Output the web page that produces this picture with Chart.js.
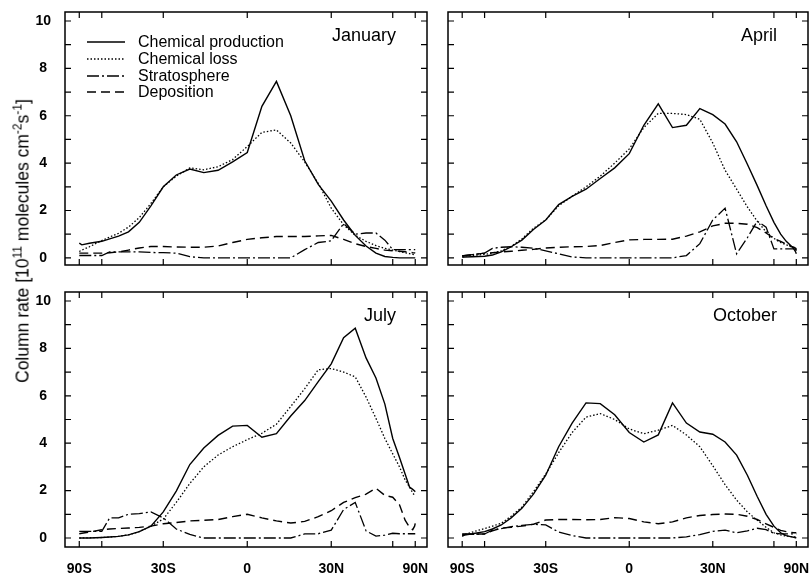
<!DOCTYPE html>
<html>
<head>
<meta charset="utf-8">
<script src="https://cdn.jsdelivr.net/npm/chart.js@4.4.1/dist/chart.umd.min.js"></script>
<style>
html, body { margin: 0; padding: 0; background: #fff; overflow: hidden; }
#wrap { position: relative; width: 809px; height: 575px; }
#wrap canvas { position: absolute; left: 0; top: 0; }
#ytitle {
  position: absolute; left: 23px; top: 241px;
  transform: translate(-50%, -50%) rotate(-90deg);
  white-space: nowrap; color: #000;
  font: 17.5px "Liberation Sans", Arial, sans-serif;
}
#ytitle sup { font-size: 12px; line-height: 0; vertical-align: 7px; }
</style>
</head>
<body>
<div id="wrap">
  <canvas id="c1" width="809" height="575"></canvas>
  <canvas id="c2" width="809" height="575"></canvas>
  <canvas id="c3" width="809" height="575"></canvas>
  <canvas id="c4" width="809" height="575"></canvas>
  <div id="ytitle">Column rate [10<sup>11</sup> molecules cm<sup>-2</sup>s<sup>-1</sup>]</div>
</div>
<script>
// latitude grid (degrees), x axis is linear in sin(latitude)
var LAT = [-90,-80,-70,-60,-55,-50,-45,-40,-35,-30,-25,-20,-15,-10,-5,0,
           5,10,15,20,25,30,35,40,45,50,55,60,65,70,75,80,85,90];
var X_TICK_LAT = [-90,-60,-30,0,30,60,90];
var X_TICK_LABELS = ['90S','','30S','0','30N','','90N'];
var Y_TICKS = [0,1,2,3,4,5,6,7,8,9,10];
var SERIES_NAMES = ['Chemical production','Chemical loss','Stratosphere','Deposition'];
var MONTHS = ['January','April','July','October'];

// January
var janProduction = [0.62,0.55,0.62,0.7,0.8,0.92,1.1,1.5,2.2,3.0,3.5,3.75,3.6,3.7,4.05,4.45,
                     6.4,7.45,6.0,4.1,3.1,2.4,1.6,0.95,0.5,0.2,0.06,0.02,0,0,0,0,0,0];
var janLoss       = [0.27,0.33,0.47,0.73,0.88,1.04,1.3,1.7,2.3,3.0,3.45,3.8,3.72,3.85,4.15,4.7,
                     5.3,5.4,4.85,4.05,3.15,2.1,1.4,0.95,0.7,0.52,0.4,0.33,0.27,0.22,0.18,0.15,0.13,0.12];
var janStrat      = [0.1,0.1,0.1,0.1,0.25,0.25,0.25,0.25,0.23,0.22,0.2,0.05,0,0,0,0,
                     0,0,0,0.35,0.65,0.72,1.45,1.0,1.05,1.05,0.75,0.35,0.35,0.35,0.35,0.35,0.35,0.35];
var janDep        = [0.2,0.2,0.2,0.2,0.22,0.25,0.33,0.42,0.48,0.48,0.46,0.45,0.45,0.5,0.65,0.78,
                     0.85,0.9,0.9,0.9,0.93,0.95,0.78,0.6,0.48,0.4,0.33,0.3,0.28,0.26,0.24,0.22,0.21,0.2];
// April
var aprProduction = [0.03,0.04,0.05,0.07,0.12,0.25,0.47,0.75,1.2,1.6,2.25,2.6,2.9,3.35,3.8,4.4,
                     5.6,6.5,5.5,5.6,6.3,6.05,5.65,4.9,3.95,3.05,2.2,1.5,1.0,0.7,0.52,0.38,0.25,0.18];
var aprLoss       = [0.08,0.08,0.1,0.15,0.2,0.3,0.48,0.8,1.25,1.6,2.2,2.6,3.0,3.45,4.0,4.6,
                     5.5,6.1,6.1,6.05,5.85,4.85,3.7,2.9,2.15,1.55,1.1,0.82,0.65,0.55,0.48,0.42,0.35,0.3];
var aprStrat      = [0.08,0.1,0.14,0.2,0.4,0.45,0.47,0.45,0.41,0.3,0.17,0.04,0,0,0,0,
                     0,0,0,0.1,0.6,1.6,2.1,0.17,0.85,1.55,1.3,0.38,0.38,0.38,0.38,0.38,0.38,0.2];
var aprDep        = [0.08,0.1,0.14,0.2,0.22,0.25,0.28,0.32,0.36,0.42,0.45,0.47,0.48,0.52,0.65,0.76,
                     0.78,0.78,0.79,0.92,1.1,1.35,1.46,1.46,1.42,1.28,1.05,0.82,0.7,0.58,0.5,0.45,0.41,0.35];
// July
var julProduction = [0,0,0,0.02,0.04,0.07,0.13,0.27,0.5,1.1,1.98,3.1,3.8,4.33,4.72,4.75,
                     4.25,4.4,5.15,5.8,6.6,7.35,8.45,8.85,7.6,6.75,5.65,4.2,3.4,2.7,2.15,2.05,1.98,1.95];
var julLoss       = [0,0,0.01,0.02,0.04,0.07,0.13,0.27,0.5,0.8,1.5,2.3,3.0,3.5,3.85,4.15,
                     4.42,4.8,5.55,6.3,7.1,7.15,7.0,6.8,5.95,5.05,4.2,3.55,3.0,2.45,2.15,1.9,1.8,1.78];
var julStrat      = [0.28,0.28,0.28,0.28,0.85,0.85,1.0,1.03,1.1,0.85,0.38,0.15,0,0,0,0,
                     0,0,0,0.17,0.18,0.33,1.2,1.5,0.3,0.08,0.12,0.2,0.18,0.18,0.18,0.18,0.18,0.18];
var julDep        = [0.18,0.2,0.25,0.35,0.38,0.4,0.42,0.45,0.5,0.6,0.65,0.72,0.75,0.78,0.9,1.0,
                     0.85,0.72,0.63,0.7,0.9,1.15,1.5,1.7,1.85,2.1,1.8,1.72,1.4,0.75,0.45,0.35,0.5,0.62];
// October
var octProduction = [0.08,0.12,0.18,0.27,0.38,0.55,0.85,1.25,1.85,2.65,3.85,4.85,5.7,5.67,5.2,4.45,
                     4.05,4.35,5.7,4.85,4.47,4.38,4.05,3.5,2.65,1.75,1.0,0.5,0.22,0.1,0.06,0.03,0.01,0];
var octLoss       = [0.08,0.15,0.25,0.4,0.5,0.62,0.92,1.3,1.95,2.7,3.6,4.45,5.1,5.25,5.0,4.6,
                     4.4,4.55,4.75,4.35,3.85,3.05,2.25,1.6,1.1,0.75,0.45,0.22,0.13,0.08,0.06,0.05,0.05,0.05];
var octStrat      = [0.15,0.15,0.15,0.17,0.33,0.4,0.48,0.53,0.58,0.55,0.25,0.1,0,0,0,0,
                     0,0,0,0.05,0.14,0.28,0.33,0.22,0.3,0.41,0.35,0.2,0.17,0.17,0.17,0.17,0.17,0.17];
var octDep        = [0.17,0.17,0.17,0.17,0.3,0.42,0.45,0.5,0.58,0.76,0.78,0.78,0.77,0.78,0.86,0.82,
                     0.68,0.6,0.68,0.85,0.95,0.99,1.01,1.0,0.92,0.78,0.6,0.45,0.32,0.27,0.24,0.22,0.22,0.22];

var PANEL_DATA = [
  [janProduction, janLoss, janStrat, janDep],
  [aprProduction, aprLoss, aprStrat, aprDep],
  [julProduction, julLoss, julStrat, julDep],
  [octProduction, octLoss, octStrat, octDep]
];

var LINE_STYLES = [
  { borderDash: [], borderWidth: 1.4 },
  { borderDash: [1.5, 2], borderWidth: 1.3 },
  { borderDash: [12, 3, 2, 3], borderWidth: 1.3 },
  { borderDash: [9, 5], borderWidth: 1.4 }
];

// chart-area boxes on the page: left, top, right, bottom
var BOXES = [
  [65, 12, 427, 265],
  [448, 12, 808, 265],
  [65, 292, 427, 547],
  [448, 292, 808, 547]
];

Chart.defaults.font.family = '"Liberation Sans", Arial, sans-serif';
Chart.defaults.color = '#000';

function sinLat(d) { return Math.sin(d * Math.PI / 180); }

var framePlugin = {
  id: 'frame',
  afterDatasetsDraw: function(chart) {
    var ctx = chart.ctx, a = chart.chartArea, sx = chart.scales.x, sy = chart.scales.y;
    ctx.save();
    ctx.strokeStyle = '#000';
    ctx.setLineDash([]);
    ctx.lineWidth = 1.5;
    ctx.strokeRect(a.left, a.top, a.right - a.left, a.bottom - a.top);
    ctx.lineWidth = 1.2;
    ctx.beginPath();
    sx.ticks.forEach(function(t) {
      var px = sx.getPixelForValue(t.value);
      ctx.moveTo(px, a.bottom); ctx.lineTo(px, a.bottom - 6);
      ctx.moveTo(px, a.top); ctx.lineTo(px, a.top + 6);
    });
    sy.ticks.forEach(function(t) {
      var py = sy.getPixelForValue(t.value);
      ctx.moveTo(a.left, py); ctx.lineTo(a.left + 6, py);
      ctx.moveTo(a.right, py); ctx.lineTo(a.right - 6, py);
    });
    ctx.stroke();
    ctx.restore();
  }
};

var labelPlugin = {
  id: 'panelText',
  afterDraw: function(chart, args, opts) {
    var ctx = chart.ctx, a = chart.chartArea;
    ctx.save();
    ctx.fillStyle = '#000';
    ctx.font = '18px "Liberation Sans", Arial, sans-serif';
    ctx.textAlign = 'right';
    ctx.textBaseline = 'alphabetic';
    ctx.fillText(opts.month, a.right - 31, a.top + 29);
    if (opts.legend) {
      ctx.font = '16px "Liberation Sans", Arial, sans-serif';
      ctx.textAlign = 'left';
      ctx.textBaseline = 'middle';
      var rows = [42, 59, 76, 92];
      chart.data.datasets.forEach(function(ds, i) {
        var y = rows[i];
        ctx.beginPath();
        ctx.setLineDash(ds.borderDash);
        ctx.lineWidth = ds.borderWidth;
        ctx.strokeStyle = '#000';
        ctx.moveTo(87, y); ctx.lineTo(125, y);
        ctx.stroke();
        ctx.fillText(ds.label, 138, y + 1);
      });
    }
    ctx.restore();
  }
};

function makePanel(idx) {
  var box = BOXES[idx];
  var showY = (idx % 2 === 0);
  var showX = (idx >= 2);
  var datasets = PANEL_DATA[idx].map(function(vals, s) {
    return {
      label: SERIES_NAMES[s],
      data: LAT.map(function(lat, i) { return { x: sinLat(lat), y: vals[i] }; }),
      borderColor: '#000',
      borderWidth: LINE_STYLES[s].borderWidth,
      borderDash: LINE_STYLES[s].borderDash,
      pointRadius: 0,
      fill: false,
      tension: 0
    };
  });
  return new Chart(document.getElementById('c' + (idx + 1)), {
    type: 'line',
    data: { datasets: datasets },
    plugins: [framePlugin, labelPlugin],
    options: {
      responsive: false,
      animation: false,
      events: [],
      layout: { padding: { left: box[0] - 65, top: box[1], right: 809 - box[2], bottom: 575 - box[3] - 30 } },
      plugins: {
        legend: { display: false },
        tooltip: { enabled: false },
        panelText: { month: MONTHS[idx], legend: idx === 0 }
      },
      scales: {
        x: {
          type: 'linear',
          min: -1.085, max: 1.07,
          grid: { display: false, drawTicks: false },
          border: { display: false },
          afterBuildTicks: function(scale) {
            scale.ticks = X_TICK_LAT.map(function(l) { return { value: sinLat(l) }; });
          },
          afterFit: function(scale) { scale.height = 30; scale.paddingLeft = 0; scale.paddingRight = 0; },
          ticks: {
            display: showX,
            autoSkip: false, maxRotation: 0, padding: 14,
            font: { size: 14, weight: 'bold' },
            callback: function(v, i) { return X_TICK_LABELS[i]; }
          }
        },
        y: {
          min: idx < 2 ? -0.3 : -0.38, max: 10.38,
          grid: { display: false, drawTicks: false },
          border: { display: false },
          afterBuildTicks: function(scale) {
            scale.ticks = Y_TICKS.map(function(v) { return { value: v }; });
          },
          afterFit: function(scale) { scale.width = 65; scale.paddingTop = 0; scale.paddingBottom = 0; },
          ticks: {
            display: showY,
            padding: 14,
            crossAlign: 'center',
            font: { size: 14, weight: 'bold' },
            callback: function(v) { return v % 2 === 0 ? String(v) : ''; }
          }
        }
      }
    }
  });
}

for (var p = 0; p < 4; p++) makePanel(p);
</script>
</body>
</html>
